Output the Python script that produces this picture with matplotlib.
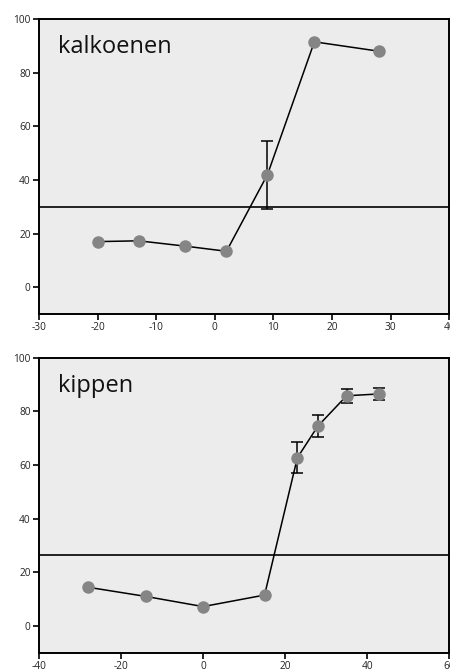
import matplotlib
matplotlib.use("Agg")
import matplotlib.pyplot as plt

plt.rcParams['font.family'] = ['Open Sans', 'DejaVu Sans']
plt.rcParams['axes.unicode_minus'] = False

# kalkoenen (turkeys)
k_x = [-20, -13, -5, 2, 9, 17, 28]
k_y = [17, 17.3, 15.3, 13.4, 42, 91.5, 88]
k_err = [0, 0, 0, 0, 12.7, 0, 0]
k_hline = 30
k_xticks = [-30, -20, -10, 0, 10, 20, 30, 40]

# kippen (chickens)
c_x = [-28, -14, 0, 15, 23, 28, 35, 43]
c_y = [14.4, 11.0, 7.2, 11.5, 62.7, 74.5, 85.8, 86.5]
c_err = [0, 0, 0, 0, 5.7, 4.0, 2.6, 2.3]
c_hline = 26.5
c_xticks = [-40, -20, 0, 20, 40, 60]

yticks = [0, 20, 40, 60, 80, 100]

fig = plt.figure(figsize=(4.5, 6.72), dpi=100)
ax1 = fig.add_axes([0.0867, 0.5327, 0.9113, 0.439])
ax2 = fig.add_axes([0.0867, 0.0287, 0.9113, 0.439])

panels = [
    (ax1, k_x, k_y, k_err, k_hline, k_xticks, (-30, 40), "kalkoenen"),
    (ax2, c_x, c_y, c_err, c_hline, c_xticks, (-40, 60), "kippen"),
]

for ax, xs, ys, errs, hl, xt, xl, title in panels:
    ax.set_facecolor('#ececec')
    ax.axhline(hl, color='black', lw=1.2, zorder=1)
    ex = [x for x, e in zip(xs, errs) if e > 0]
    ey = [y for y, e in zip(ys, errs) if e > 0]
    ee = [e for e in errs if e > 0]
    ax.errorbar(ex, ey, yerr=ee, fmt='none', ecolor='black', elinewidth=1.1,
                capsize=4, capthick=1.1, zorder=2)
    ax.plot(xs, ys, color='black', lw=1.1, zorder=3)
    ax.plot(xs, ys, 'o', color='#858585', ms=9, mec='none', zorder=4)
    ax.set_xlim(*xl)
    ax.set_ylim(-10, 100)
    ax.set_xticks(xt)
    ax.set_yticks(yticks)
    ax.tick_params(direction='out', length=4, width=1.2, labelsize=7.3,
                   colors='black', pad=2)
    ax.tick_params(axis='x', labelcolor='#222222')
    ax.tick_params(axis='y', labelcolor='#222222')
    for s in ax.spines.values():
        s.set_linewidth(1.4)
    ax.text(0.047, 0.945, title, transform=ax.transAxes, fontsize=17,
            va='top', ha='left', color='#111111')

fig.savefig('out.png', dpi=100)
